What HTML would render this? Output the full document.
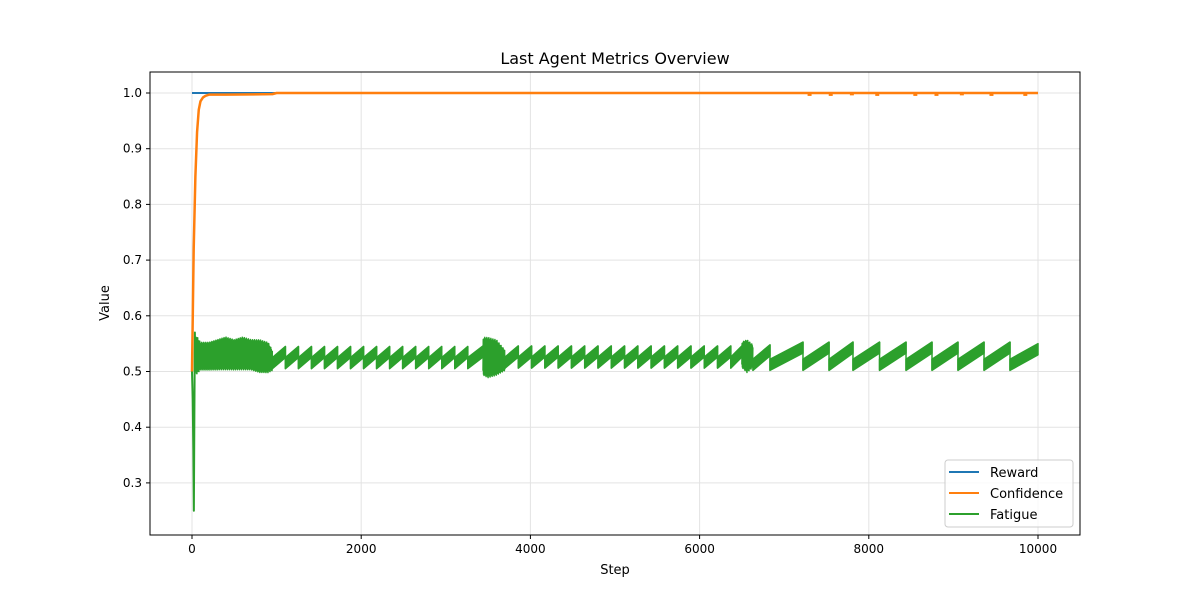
<!DOCTYPE html>
<html><head><meta charset="utf-8"><style>
html,body{margin:0;padding:0;background:#fff;}
svg{display:block;font-family:"DejaVu Sans","Liberation Sans",sans-serif;}
</style></head><body>
<svg id="chart" width="1200" height="600" viewBox="0 0 1200 600">
<rect width="1200" height="600" fill="#fff"/>
<g id="grid"></g>
<g id="series"></g>
<rect x="150" y="72" width="930" height="463" fill="none" stroke="#000" stroke-width="1"/>
<g id="ticks"></g>
<text x="615" y="64" text-anchor="middle" font-size="16">Last Agent Metrics Overview</text>
<text x="615" y="574" text-anchor="middle" font-size="13">Step</text>
<text x="109" y="303" text-anchor="middle" font-size="13" transform="rotate(-90 109 303)">Value</text>
<g>
<rect x="945" y="460" width="128" height="67" rx="3" fill="#fff" fill-opacity="0.8" stroke="#ccc"/>
<g><line x1="949" y1="472" x2="979" y2="472" stroke="#1f77b4" stroke-width="2"/><text x="990" y="477" font-size="13">Reward</text></g>
<g><line x1="949" y1="493" x2="979" y2="493" stroke="#ff7f0e" stroke-width="2"/><text x="990" y="498" font-size="13">Confidence</text></g>
<g><line x1="949" y1="514" x2="979" y2="514" stroke="#2ca02c" stroke-width="2"/><text x="990" y="519" font-size="13">Fatigue</text></g>
</g>
</svg>
<script>
const xTicks=[0,2000,4000,6000,8000,10000];
const yTicks=[0.3,0.4,0.5,0.6,0.7,0.8,0.9,1.0];
const rewardSteps=[0,10000];
const rewardValues=[1.0,1.0];
const confSteps=[0,20,40,60,80,100,130,160,200,400,950,1000,10000];
const confValues=[0.5,0.72,0.85,0.93,0.97,0.985,0.992,0.995,0.997,0.997,0.998,1.0,1.0];
const confDipSteps=[7300,7550,7800,8100,8550,8800,9100,9450,9850];
const confDipValues=[0.997,0.997,0.998,0.997,0.997,0.997,0.998,0.997,0.997];
const fatInitSteps=[0,8,16,22,28,34,40,46];
const fatInitValues=[0.50,0.45,0.36,0.25,0.42,0.57,0.50,0.53];
const noiseSteps1=[46,100,200,300,400,500,600,700,800,900,950];
const noiseLo1=[0.49,0.50,0.50,0.50,0.50,0.50,0.50,0.50,0.495,0.495,0.50];
const noiseHi1=[0.57,0.555,0.555,0.56,0.565,0.56,0.565,0.56,0.56,0.555,0.54];
const noiseSteps2=[3440,3500,3600,3700];
const noiseLo2=[0.49,0.485,0.49,0.50];
const noiseHi2=[0.565,0.565,0.56,0.54];
const noiseSteps3=[6500,6560,6630];
const noiseLo3=[0.505,0.495,0.505];
const noiseHi3=[0.555,0.56,0.55];
const toothStarts=[950,1104,1258,1412,1566,1720,1874,2028,2182,2336,2490,2644,2798,2952,3106,3260,
 3700,3857,4014,4171,4328,4485,4642,4799,4956,5113,5270,5427,5584,5741,5898,6055,6212,6369,
 6630,6832,7222,7530,7813,8127,8440,8747,9054,9362,9669];
const toothEnds=[1104,1258,1412,1566,1720,1874,2028,2182,2336,2490,2644,2798,2952,3106,3260,3440,
 3857,4014,4171,4328,4485,4642,4799,4956,5113,5270,5427,5584,5741,5898,6055,6212,6369,6500,
 6832,7222,7530,7813,8127,8440,8747,9054,9362,9669,10000];
const toothStartVals=[0.515,0.515,0.515,0.515,0.515,0.515,0.515,0.515,0.515,0.515,0.515,0.515,0.515,0.515,0.515,0.515,
 0.516,0.516,0.516,0.516,0.516,0.516,0.516,0.516,0.516,0.516,0.516,0.516,0.516,0.516,0.516,0.516,0.516,0.516,
 0.512,0.512,0.512,0.512,0.512,0.512,0.512,0.512,0.512,0.512,0.512];
const toothEndVals=[0.535,0.535,0.535,0.535,0.535,0.535,0.535,0.535,0.535,0.535,0.535,0.535,0.535,0.535,0.535,0.536,
 0.536,0.536,0.536,0.536,0.536,0.536,0.536,0.536,0.536,0.536,0.536,0.536,0.536,0.536,0.536,0.536,0.536,0.536,
 0.538,0.543,0.543,0.543,0.543,0.543,0.543,0.543,0.543,0.543,0.540];
const toothHalf=0.01;

const NS='http://www.w3.org/2000/svg';
const X0=150,X1=1080,Y0=72,Y1=535;
function sx(v){return 192+v*(1038-192)/10000;}
function sy(v){return 93+(1.0-v)*557;}
function mk(tag,attrs,parent){const e=document.createElementNS(NS,tag);for(const k in attrs)e.setAttribute(k,attrs[k]);parent.appendChild(e);return e;}
const grid=document.getElementById('grid'),ticks=document.getElementById('ticks'),ser=document.getElementById('series');
xTicks.forEach(t=>{const x=sx(t);
 const g=mk('line',{x1:x,x2:x,y1:Y0,y2:Y1,stroke:'#e3e3e3','stroke-width':1},grid);
 
 
 mk('line',{x1:x,x2:x,y1:Y1,y2:Y1+4,stroke:'#000'},ticks);
 const tx=mk('text',{x:x,y:Y1+18,'text-anchor':'middle','font-size':12},ticks);tx.textContent=t;
 
 });
yTicks.forEach(t=>{const y=sy(t);
 const g=mk('line',{x1:X0,x2:X1,y1:y,y2:y,stroke:'#e3e3e3','stroke-width':1},grid);
 
 
 mk('line',{x1:X0-4,x2:X0,y1:y,y2:y,stroke:'#000'},ticks);
 const tx=mk('text',{x:X0-8,y:y+4,'text-anchor':'end','font-size':12},ticks);tx.textContent=t.toFixed(1);
 
 });
function poly(xs,ys,color,w,name){const p=mk('polyline',{points:xs.map((s,i)=>sx(s)+','+sy(ys[i])).join(' '),fill:'none',stroke:color,'stroke-width':w,'stroke-linejoin':'round'},ser);
 
 return p;}
function interp(xs,ys,s){for(let i=0;i<xs.length-1;i++){if(s<=xs[i+1]){const f=(s-xs[i])/(xs[i+1]-xs[i]);return ys[i]+f*(ys[i+1]-ys[i]);}}return ys[ys.length-1];}
poly(rewardSteps,rewardValues,'#1f77b4',2,'reward-line');
poly(fatInitSteps,fatInitValues,'#2ca02c',2,'fatigue-initial-spike');
function noise(xs,lo,hi,name){const pxs=[],pys=[];let k=0;const pat=[1,0.8,0.95,0.7,1,0.85,0.75,0.9];
 for(let s=xs[0];s<=xs[xs.length-1];s+=3,k++){const l=interp(xs,lo,s),h=interp(xs,hi,s),m=(l+h)/2,f=pat[k%8];pxs.push(s);pys.push(k%2?m+(h-m)*f:m-(m-l)*pat[(k+3)%8]);}
 poly(pxs,pys,'#2ca02c',1.5,name);}
noise(noiseSteps1,noiseLo1,noiseHi1,'fatigue-noise-early');
noise(noiseSteps2,noiseLo2,noiseHi2,'fatigue-noise-mid');
noise(noiseSteps3,noiseLo3,noiseHi3,'fatigue-noise-late');
toothStarts.forEach((s,i)=>{const e=toothEnds[i],a=toothStartVals[i],b=toothEndVals[i];
 const pts=[[s,a-toothHalf],[s,a+toothHalf],[e,b+toothHalf],[e,b-toothHalf]];
 const p=mk('polygon',{points:pts.map(q=>sx(q[0])+','+sy(q[1])).join(' '),fill:'#2ca02c',stroke:'#2ca02c','stroke-width':1.5,'stroke-linejoin':'round'},ser);
 
 
 if(i+1<toothStarts.length&&toothStarts[i+1]===e){const d=mk('line',{x1:sx(e),x2:sx(e),y1:sy(b+toothHalf),y2:sy(toothStartVals[i+1]-toothHalf),stroke:'#2ca02c','stroke-width':1.5},ser);
 
 }});
poly(confSteps,confValues,'#ff7f0e',2.5,'confidence-line');
confDipSteps.forEach((s,i)=>{const d=mk('line',{x1:sx(s)-2,x2:sx(s)+2,y1:sy(confDipValues[i]),y2:sy(confDipValues[i]),stroke:'#ff7f0e','stroke-width':2.5},ser);
 
 });
</script>
</body></html>
